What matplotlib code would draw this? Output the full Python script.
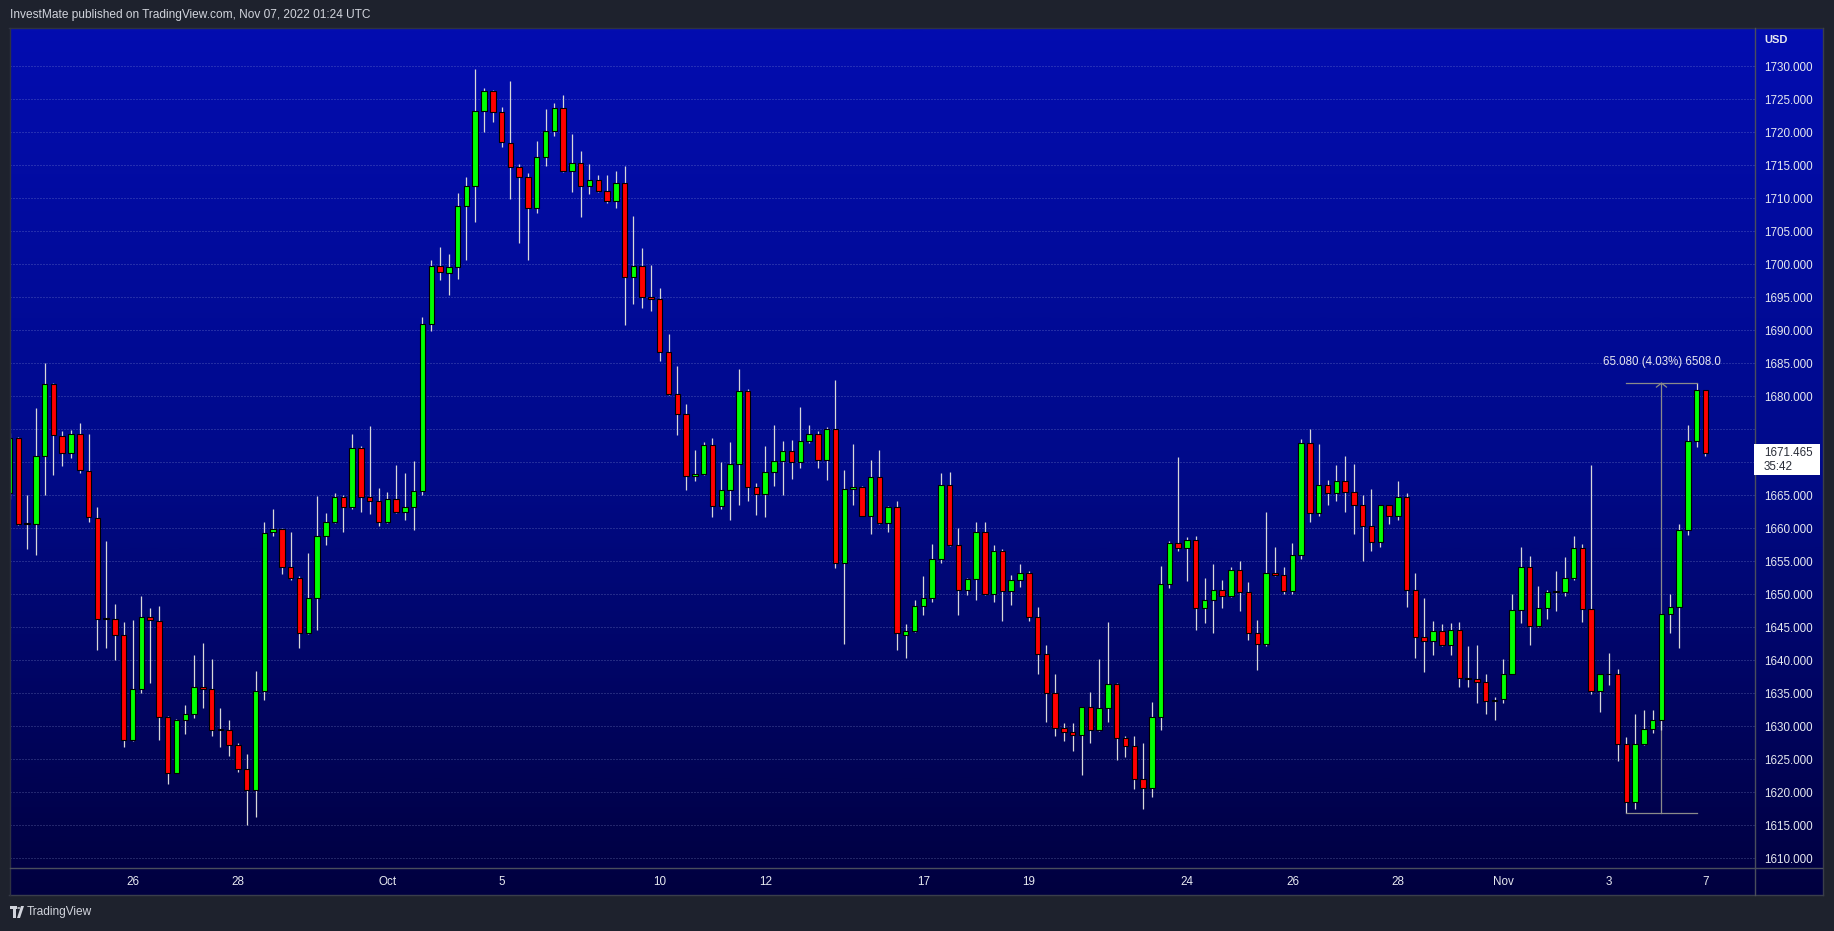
import numpy as np
import matplotlib
matplotlib.use("Agg")
import matplotlib.pyplot as plt
from matplotlib.patches import Rectangle, Polygon, Circle
from matplotlib.lines import Line2D
from matplotlib.colors import LinearSegmentedColormap

plt.rcParams['font.family'] = ['Liberation Sans', 'DejaVu Sans']

# ---------------- data (4H candles, XAUUSD) ----------------
opens = [1665.3, 1673.7, 1660.7, 1660.7, 1670.9, 1681.9, 1674.0, 1671.4, 1674.3, 1668.7,
         1661.6, 1646.3, 1646.3, 1643.9, 1628.0, 1635.6, 1646.6, 1646.0, 1631.4, 1622.9,
         1631.0, 1631.8, 1635.9, 1635.6, 1629.5, 1629.5, 1627.1, 1623.6, 1620.3, 1635.3,
         1659.4, 1659.95, 1654.1, 1652.4, 1644.2, 1649.5, 1658.9, 1660.9, 1664.8, 1663.2,
         1672.1, 1664.7, 1664.2, 1660.9, 1664.4, 1662.4, 1663.2, 1665.7, 1691.0, 1699.8,
         1698.7, 1699.6, 1708.9, 1711.9, 1723.3, 1726.3, 1723.0, 1718.4, 1714.7, 1713.2,
         1708.6, 1716.3, 1720.25, 1723.7, 1714.1, 1715.4, 1711.8, 1712.7, 1711.1, 1709.55,
         1712.3, 1698.0, 1699.8, 1695.0, 1694.7, 1686.7, 1680.3, 1677.3, 1668.0, 1668.3,
         1672.6, 1663.4, 1665.8, 1669.7, 1680.8, 1666.3, 1665.2, 1668.6, 1670.2, 1671.7,
         1670.0, 1673.2, 1674.3, 1670.3, 1675.1, 1654.8, 1665.9, 1666.3, 1661.8, 1667.8,
         1660.8, 1663.3, 1643.9, 1644.5, 1648.3, 1649.5, 1655.4, 1666.6, 1657.4, 1650.7,
         1652.3, 1659.4, 1650.0, 1656.5, 1650.5, 1652.1, 1653.2, 1646.5, 1640.9, 1635.0,
         1629.8, 1629.1, 1628.7, 1633.0, 1629.4, 1632.7, 1636.4, 1628.3, 1627.0, 1622.0,
         1620.7, 1631.4, 1651.5, 1657.7, 1657.0, 1658.3, 1647.9, 1649.2, 1650.6, 1649.7,
         1653.7, 1650.3, 1644.1, 1642.5, 1653.3, 1653.0, 1650.5, 1655.9, 1673.0, 1662.3,
         1666.6, 1665.3, 1667.2, 1665.5, 1663.6, 1660.3, 1658.0, 1663.5, 1661.9, 1664.7,
         1650.7, 1643.5, 1642.9, 1644.4, 1642.3, 1644.55, 1637.2, 1637.1, 1636.7, 1633.8,
         1634.1, 1638.0, 1647.6, 1654.1, 1645.2, 1648.0, 1650.4, 1650.4, 1652.4, 1657.0,
         1647.7, 1635.3, 1637.9, 1637.9, 1627.3, 1618.5, 1627.3, 1629.6, 1631.0, 1647.0,
         1648.1, 1659.7, 1673.3, 1680.9]
highs = [1674.5, 1673.9, 1665.0, 1678.3, 1685.0, 1682.0, 1674.7, 1674.9, 1676.0, 1674.3,
         1663.2, 1658.1, 1648.5, 1645.8, 1646.1, 1649.8, 1647.9, 1648.3, 1631.5, 1631.1,
         1633.2, 1640.8, 1642.6, 1640.2, 1632.8, 1630.9, 1627.5, 1625.8, 1638.4, 1660.9,
         1662.9, 1660.0, 1659.4, 1652.7, 1656.3, 1664.9, 1662.3, 1665.3, 1665.0, 1674.3,
         1672.5, 1675.5, 1666.1, 1665.5, 1669.6, 1668.4, 1670.2, 1692.0, 1700.7, 1702.6,
         1701.6, 1710.8, 1713.2, 1729.6, 1726.7, 1726.4, 1723.8, 1727.8, 1715.2, 1713.8,
         1718.7, 1723.5, 1724.4, 1725.7, 1719.75, 1717.2, 1715.2, 1713.5, 1713.5, 1714.1,
         1714.9, 1707.3, 1702.5, 1699.9, 1696.4, 1689.4, 1684.6, 1678.8, 1671.8, 1673.1,
         1673.7, 1670.0, 1673.1, 1684.2, 1681.1, 1666.9, 1672.4, 1675.6, 1673.3, 1673.4,
         1678.4, 1675.6, 1674.8, 1675.4, 1682.5, 1668.9, 1672.7, 1666.4, 1670.4, 1671.9,
         1663.4, 1664.2, 1645.5, 1649.1, 1652.8, 1657.6, 1668.4, 1668.5, 1660.05, 1652.4,
         1661.0, 1661.0, 1657.5, 1656.9, 1652.9, 1654.6, 1653.5, 1648.1, 1642.3, 1637.9,
         1630.5, 1630.5, 1633.0, 1635.2, 1640.2, 1645.8, 1636.5, 1628.6, 1628.5, 1627.5,
         1633.7, 1654.3, 1658.1, 1670.8, 1658.7, 1658.8, 1652.5, 1654.6, 1652.2, 1654.2,
         1655.05, 1651.9, 1646.1, 1662.5, 1657.2, 1654.1, 1657.8, 1673.6, 1675.05, 1672.8,
         1667.3, 1669.6, 1671.0, 1669.8, 1665.05, 1666.0, 1663.6, 1663.6, 1667.2, 1665.4,
         1653.2, 1649.4, 1646.0, 1645.5, 1645.7, 1645.8, 1642.2, 1642.3, 1637.9, 1634.4,
         1640.2, 1650.1, 1657.2, 1655.8, 1651.3, 1650.6, 1653.5, 1655.7, 1658.9, 1657.6,
         1669.6, 1638.0, 1641.1, 1638.7, 1628.4, 1631.8, 1632.5, 1632.4, 1647.0, 1650.1,
         1660.7, 1675.6, 1682.0, 1681.0]
lows = [1664.5, 1660.5, 1656.9, 1655.9, 1665.0, 1668.1, 1669.5, 1670.7, 1668.4, 1661.0,
        1641.5, 1641.8, 1640.0, 1626.9, 1627.8, 1635.0, 1636.5, 1628.0, 1621.3, 1622.9,
        1628.9, 1631.3, 1632.7, 1628.5, 1626.9, 1625.5, 1623.1, 1615.1, 1616.2, 1634.0,
        1658.9, 1653.1, 1652.2, 1641.8, 1644.0, 1644.6, 1657.4, 1660.8, 1659.4, 1663.0,
        1662.4, 1662.2, 1660.4, 1660.8, 1662.3, 1661.3, 1659.75, 1665.0, 1689.9, 1697.6,
        1695.4, 1697.8, 1700.7, 1706.4, 1720.05, 1721.6, 1717.7, 1709.95, 1703.3, 1700.7,
        1707.8, 1714.95, 1719.5, 1714.0, 1711.0, 1707.1, 1710.7, 1711.0, 1709.3, 1708.6,
        1690.8, 1694.0, 1693.4, 1692.9, 1685.3, 1680.2, 1674.1, 1665.8, 1667.2, 1668.1,
        1661.7, 1663.0, 1661.2, 1663.6, 1664.1, 1662.0, 1661.7, 1666.4, 1665.0, 1667.4,
        1669.2, 1673.0, 1669.2, 1667.3, 1654.0, 1642.5, 1663.6, 1661.8, 1659.2, 1660.7,
        1659.5, 1641.5, 1640.4, 1644.3, 1646.9, 1648.8, 1654.8, 1657.3, 1646.9, 1649.9,
        1649.1, 1649.9, 1648.8, 1646.0, 1648.4, 1651.1, 1645.9, 1637.9, 1630.7, 1628.5,
        1627.8, 1626.2, 1622.6, 1627.4, 1629.3, 1630.7, 1624.95, 1625.4, 1620.5, 1617.5,
        1619.3, 1629.4, 1651.0, 1656.6, 1652.0, 1644.6, 1645.7, 1644.2, 1648.0, 1649.6,
        1647.4, 1643.1, 1638.6, 1642.2, 1652.7, 1650.0, 1650.0, 1655.4, 1660.9, 1661.8,
        1663.6, 1664.2, 1662.5, 1659.2, 1655.1, 1656.5, 1657.2, 1660.7, 1661.3, 1648.1,
        1640.4, 1638.3, 1640.8, 1642.2, 1640.8, 1635.9, 1635.9, 1633.6, 1631.9, 1631.0,
        1633.6, 1637.9, 1645.7, 1642.3, 1645.1, 1646.3, 1647.5, 1649.8, 1652.1, 1645.8,
        1634.9, 1632.1, 1636.2, 1624.8, 1616.92, 1617.5, 1627.2, 1629.0, 1629.5, 1644.2,
        1641.8, 1659.0, 1672.3, 1670.9]
closes = [1673.7, 1660.7, 1660.7, 1670.9, 1681.9, 1674.1, 1671.4, 1674.3, 1668.8, 1661.7,
          1646.2, 1646.3, 1643.9, 1628.0, 1635.6, 1646.6, 1646.1, 1631.4, 1622.9, 1630.9,
          1631.8, 1635.9, 1635.6, 1629.5, 1629.5, 1627.1, 1623.6, 1620.4, 1635.3, 1659.3,
          1659.95, 1654.1, 1652.4, 1644.2, 1649.5, 1658.9, 1660.9, 1664.8, 1663.2, 1672.1,
          1664.7, 1664.2, 1660.9, 1664.4, 1662.4, 1663.2, 1665.6, 1691.0, 1699.8, 1698.8,
          1699.6, 1708.9, 1711.9, 1723.3, 1726.3, 1723.0, 1718.5, 1714.7, 1713.2, 1708.6,
          1716.3, 1720.25, 1723.7, 1714.1, 1715.4, 1711.8, 1712.7, 1711.1, 1709.55, 1712.3,
          1698.0, 1699.8, 1695.0, 1694.7, 1686.7, 1680.3, 1677.3, 1667.9, 1668.3, 1672.6,
          1663.4, 1665.8, 1669.7, 1680.8, 1666.3, 1665.2, 1668.6, 1670.2, 1671.7, 1670.0,
          1673.2, 1674.3, 1670.3, 1675.1, 1654.8, 1665.9, 1666.3, 1661.8, 1667.8, 1660.8,
          1663.3, 1644.1, 1644.5, 1648.3, 1649.5, 1655.4, 1666.6, 1657.4, 1650.7, 1652.3,
          1659.4, 1650.0, 1656.5, 1650.5, 1652.1, 1653.2, 1646.5, 1640.9, 1635.0, 1629.8,
          1629.1, 1628.7, 1633.0, 1629.4, 1632.7, 1636.4, 1628.3, 1627.0, 1622.0, 1620.7,
          1631.4, 1651.5, 1657.7, 1657.0, 1658.3, 1647.9, 1649.2, 1650.6, 1649.7, 1653.7,
          1650.3, 1644.1, 1642.5, 1653.3, 1653.0, 1650.5, 1655.9, 1673.0, 1662.3, 1666.6,
          1665.3, 1667.2, 1665.5, 1663.6, 1660.3, 1658.0, 1663.5, 1661.9, 1664.7, 1650.7,
          1643.5, 1642.9, 1644.4, 1642.3, 1644.55, 1637.3, 1637.2, 1636.7, 1633.8, 1634.0,
          1638.0, 1647.6, 1654.1, 1645.2, 1648.0, 1650.4, 1650.4, 1652.4, 1657.0, 1647.7,
          1635.3, 1638.0, 1638.0, 1627.3, 1618.5, 1627.3, 1629.6, 1631.0, 1647.0, 1648.1,
          1659.7, 1673.3, 1680.9, 1671.465]

tick_positions = [14, 26, 43, 56, 74, 86, 104, 116, 134, 146, 158, 170, 182, 193]
tick_labels = ["26", "28", "Oct", "5", "10", "12", "17", "19", "24", "26", "28", "Nov", "3", "7"]
price_ticks = list(range(1610, 1731, 5))
last_price = 1671.465
countdown = "35:42"
currency = "USD"
measure_start, measure_end = 184, 192
measure_low, measure_high = 1616.92, 1682.0
measure_label = "65.080 (4.03%) 6508.0"
header = "InvestMate published on TradingView.com, Nov 07, 2022 01:24 UTC"
footer = "TradingView"

# ---------------- layout ----------------
W, H = 1834, 931
fig = plt.figure(figsize=(W / 100, H / 100), dpi=100, facecolor='#1e222d')

def fx(px):
    return px / W

def fy(py):
    return 1 - py / H

PL, PR, PT, PB = 10, 1754.6, 28, 868     # plot area (pixels)
FR, FB = 1822, 895                        # frame right / bottom

# gradient background
bg = fig.add_axes([fx(PL), fy(FB), fx(FR - PL), (FB - PT) / H])
bg.set_axis_off()
cmap = LinearSegmentedColormap.from_list('tvbg', ['#00003f', '#000a8a', '#030db0'])
grad = np.linspace(0, 1, 512).reshape(-1, 1)
bg.imshow(grad, aspect='auto', cmap=cmap, origin='lower', extent=[0, 1, 0, 1])

ax = fig.add_axes([fx(PL), fy(PB), fx(PR - PL), (PB - PT) / H])
ax.patch.set_alpha(0)
for s in ax.spines.values():
    s.set_visible(False)

n = len(opens)
x = np.arange(n)
o = np.array(opens); c = np.array(closes); hi = np.array(highs); lo = np.array(lows)

spacing = 8.787
x0_px = 9.5
ax.set_xlim((PL - x0_px) / spacing, (PR - x0_px) / spacing)
ax.set_ylim(1685 - (PB - 363.3) * 0.151515, 1685 + (363.3 - PT) * 0.151515)

# grid
for p in price_ticks:
    ax.axhline(p, color=(0.62, 0.66, 0.88, 0.45), lw=0.72, ls=(0, (1, 2)), zorder=0)

# candles
ax.vlines(x, lo, hi, color='#d8d8d8', lw=0.9, zorder=2)
diff = c - o
doji = np.abs(diff) < 0.05
body_bottom = np.minimum(o, c)
body_h = np.where(doji, 0.12, np.abs(diff))
colors = np.where(doji, 'black', np.where(diff > 0, '#00ff00', '#ff0000'))
ax.bar(x, body_h, bottom=body_bottom, width=0.62, color=list(colors),
       edgecolor='black', linewidth=0.8, zorder=3)

# measurement tool
mcol = '#8a8a8a'
mid = (measure_start + measure_end) / 2
ax.plot([measure_start, measure_end], [measure_high, measure_high], color=mcol, lw=0.9, zorder=4)
ax.plot([measure_start, measure_end], [measure_low, measure_low], color=mcol, lw=0.9, zorder=4)
ax.plot([mid, mid], [measure_low, measure_high], color=mcol, lw=0.9, zorder=1.5)
ax.plot([mid - 0.57, mid, mid + 0.57], [measure_high - 0.6, measure_high, measure_high - 0.6],
        color=mcol, lw=0.9, zorder=4)
ax.text(mid, 1685.2, measure_label, ha='center', va='center', color='#e8e8f0', fontsize=8.3, zorder=5)

# axes ticks (the 1670 label is hidden behind the last-price box in the reference)
ax.yaxis.tick_right()
ax.set_yticks(price_ticks)
ax.set_yticklabels(["" if abs(p - last_price) < 4 else f"{p:.3f}" for p in price_ticks])
ax.tick_params(axis='y', length=0, pad=6.8, labelsize=8.4, labelcolor='#e6e8ef')
ax.set_xticks(tick_positions)
ax.set_xticklabels(tick_labels)
ax.tick_params(axis='x', length=0, pad=5.5, labelsize=8.4, labelcolor='#e6e8ef')

# frame lines
lc = '#4a4e5c'
def hline(y, x1, x2, col=lc, lw=1.0):
    fig.add_artist(Line2D([fx(x1), fx(x2)], [fy(y), fy(y)], color=col, lw=lw, transform=fig.transFigure))
def vline(xp, y1, y2, col=lc, lw=1.0):
    fig.add_artist(Line2D([fx(xp), fx(xp)], [fy(y1), fy(y2)], color=col, lw=lw, transform=fig.transFigure))

hline(PT - 0.5, PL - 1, FR + 1, col='#2e3240')
hline(FB, PL - 1, FR + 1, col='#3a3e4a')
vline(PL - 0.5, PT, FB, col='#2e3240')
vline(FR + 1, PT, FB, col='#3a3e4a')
hline(PB, PL, FR)
vline(PR, PT, FB)

# USD label
fig.text(fx(1764), fy(40), currency, ha='left', va='center', color='#e6e8ef', fontsize=8, fontweight='bold')

# last price box
fig.add_artist(Rectangle((fx(1754), fy(475)), fx(1820 - 1754), (475 - 444) / H,
                         facecolor='white', edgecolor='none', transform=fig.transFigure, zorder=10))
fig.text(fx(1764), fy(453.3), f"{last_price:.3f}", ha='left', va='center', color='#2a2e39',
         fontsize=8.4, zorder=11)
fig.text(fx(1764), fy(466.7), countdown, ha='left', va='center', color='#2a2e39',
         fontsize=8.4, zorder=11)

# header
fig.text(fx(10), fy(15), header, ha='left', va='center', color='#d1d4dc', fontsize=8.55)

# footer logo + text
logo_col = '#d1d4dc'
fig.add_artist(Rectangle((fx(10), fy(909)), fx(7), 3 / H, facecolor=logo_col, edgecolor='none',
                         transform=fig.transFigure))
fig.add_artist(Rectangle((fx(13), fy(918)), fx(3), 11 / H, facecolor=logo_col, edgecolor='none',
                         transform=fig.transFigure))
fig.add_artist(Circle((fx(18.8), fy(908)), 1.6 / W, facecolor=logo_col, edgecolor='none',
                      transform=fig.transFigure))
fig.add_artist(Polygon([(fx(21), fy(906)), (fx(24), fy(906)), (fx(20), fy(918)), (fx(17), fy(918))],
                       closed=True, facecolor=logo_col, edgecolor='none', transform=fig.transFigure))
fig.text(fx(27), fy(912), footer, ha='left', va='center', color=logo_col, fontsize=8.6)

fig.savefig('out.png', dpi=100, facecolor=fig.get_facecolor())
